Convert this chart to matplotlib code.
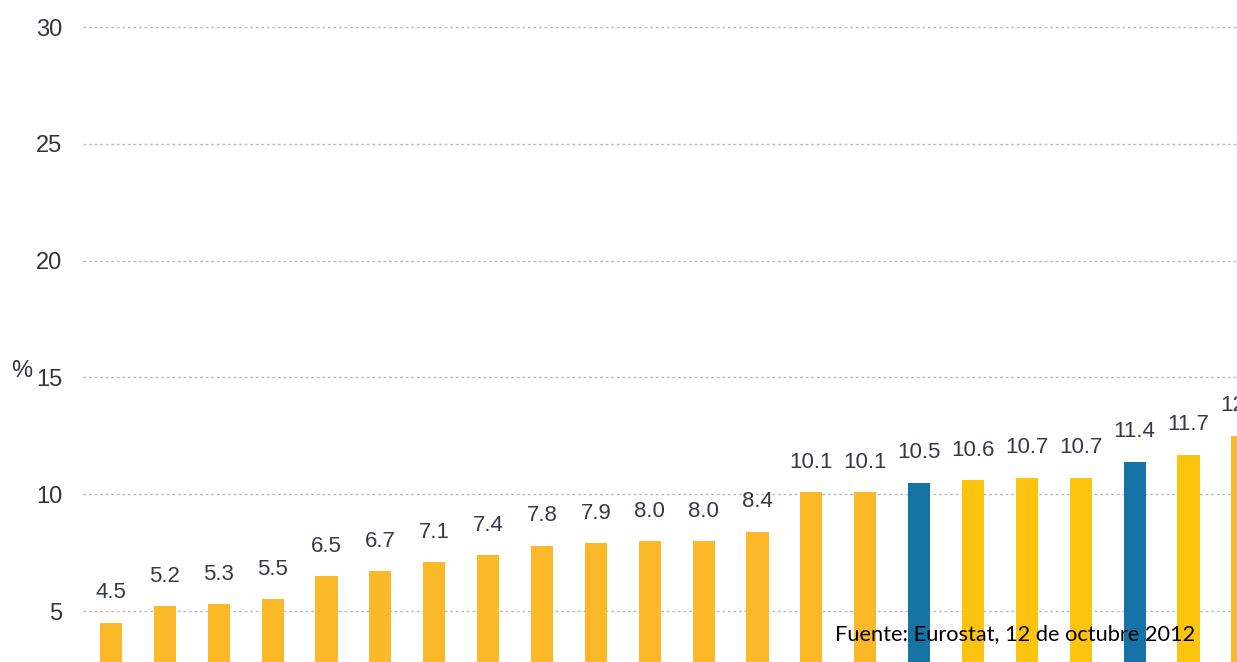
import matplotlib.pyplot as plt

# values (last bar cut off at the right edge)
values = [4.5, 5.2, 5.3, 5.5, 6.5, 6.7, 7.1, 7.4, 7.8, 7.9, 8.0, 8.0, 8.4,
          10.1, 10.1, 10.5, 10.6, 10.7, 10.7, 11.4, 11.7, 12.5]
labels = ["4.5", "5.2", "5.3", "5.5", "6.5", "6.7", "7.1", "7.4", "7.8", "7.9", "8.0", "8.0", "8.4",
          "10.1", "10.1", "10.5", "10.6", "10.7", "10.7", "11.4", "11.7", "12.5"]
kind = ["o"] * 15 + ["b", "y", "y", "y", "b", "y", "o"]
yticks = [5, 10, 15, 20, 25, 30]

colors = {"o": "#FBB829", "y": "#FDC40F", "b": "#1673A6"}

fig = plt.figure(figsize=(12.37, 6.62), dpi=100)
ax = fig.add_axes([83 / 1237, 0, 1 - 83 / 1237, 1])

x = list(range(len(values)))
ax.bar(x, values, width=0.41, color=[colors[k] for k in kind], zorder=3)

# the last label is cut off by the right edge, as in the original
for xi, v, t in zip(x, values, labels):
    ax.annotate(t, (xi, v), xytext=(0, 14), textcoords="offset points",
                ha="center", va="bottom", fontsize=16, color="#343A4A",
                family="Liberation Sans", annotation_clip=False)

ax.set_xlim(-0.52, 20.9)
ax.set_ylim(2.82, 31.16)
ax.set_yticks(yticks)
ax.set_xticks([])
ax.tick_params(axis="y", length=0, pad=15, labelsize=17, labelcolor="#34343F")
for lab in ax.get_yticklabels():
    lab.set_family("Liberation Sans")
ax.grid(axis="y", color="#BBBBBB", linestyle=(0, (2, 2)), linewidth=1, zorder=0)
for s in ax.spines.values():
    s.set_visible(False)

fig.text(11 / 1237, 1 - 371 / 662, "%", fontsize=17, color="#34343F",
         family="Liberation Sans", va="center", ha="left")
fig.text(835 / 1237, 1 - 634 / 662, "Fuente: Eurostat, 12 de octubre 2012",
         fontsize=15.7, color="black", family="Lato", va="center", ha="left")

plt.savefig("out.png", dpi=100)
